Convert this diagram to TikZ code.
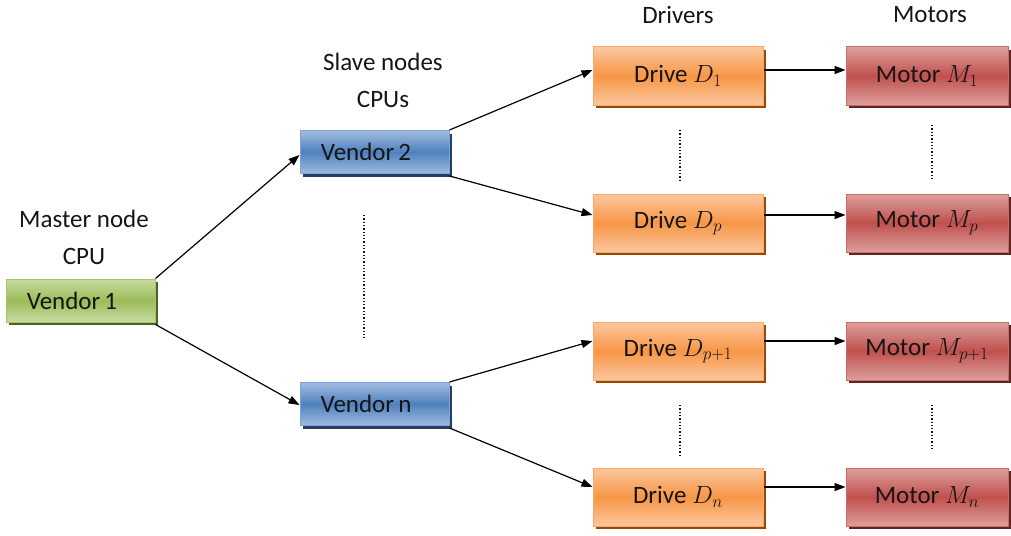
\documentclass[tikz,border=0pt]{standalone}
\usepackage{fontspec}
\setmainfont{Carlito}
\usetikzlibrary{arrows.meta,shadows}
\definecolor{grnTop}{HTML}{C8DCA2}
\definecolor{grnMid}{HTML}{9BBB59}
\definecolor{grnLine}{HTML}{A7C46A}
\definecolor{grnShd}{HTML}{4F6228}
\definecolor{bluTop}{HTML}{A0BCE0}
\definecolor{bluMid}{HTML}{4F81BD}
\definecolor{bluLine}{HTML}{7FA3D2}
\definecolor{bluShd}{HTML}{243F60}
\definecolor{orgTop}{HTML}{FBC79E}
\definecolor{orgMid}{HTML}{F79646}
\definecolor{orgLine}{HTML}{F9A869}
\definecolor{orgShd}{HTML}{984807}
\definecolor{redTop}{HTML}{DDA09E}
\definecolor{redMid}{HTML}{C0504D}
\definecolor{redLine}{HTML}{CB6A67}
\definecolor{redShd}{HTML}{632523}
\definecolor{ink}{HTML}{151515}
\tikzset{
  box/.style={rectangle, line width=1pt, text=ink, font=\fontsize{25}{28}\selectfont,
    inner sep=0pt},
  vendorbox/.style={box, minimum width=149pt, minimum height=43pt},
  unitbox/.style={box, minimum height=58pt},
  greenbox/.style={vendorbox, draw=grnLine, top color=grnTop, bottom color=grnTop, middle color=grnMid,
    general shadow={fill=grnShd, shadow xshift=2.5pt, shadow yshift=-3pt}},
  bluebox/.style={vendorbox, draw=bluLine, top color=bluTop, bottom color=bluTop, middle color=bluMid,
    general shadow={fill=bluShd, shadow xshift=2.5pt, shadow yshift=-3pt}},
  drivebox/.style={unitbox, minimum width=170pt, draw=orgLine, top color=orgTop, bottom color=orgTop, middle color=orgMid,
    general shadow={fill=orgShd, shadow xshift=2.5pt, shadow yshift=-3pt}},
  motorbox/.style={unitbox, minimum width=162pt, draw=redLine, top color=redTop, bottom color=redTop, middle color=redMid,
    general shadow={fill=redShd, shadow xshift=2.5pt, shadow yshift=-3pt}},
  heading/.style={text=ink, font=\fontsize{25}{37}\selectfont, align=center},
  link/.style={line width=1.2pt, -{Triangle[length=11pt,width=8pt]}},
  gap/.style={dotted, line width=1.3pt, ink},
}
\begin{document}
\begin{tikzpicture}[x=1pt,y=-1pt]
\useasboundingbox (0,0) rectangle (1011,535);

% headings
\node[heading] (hmaster) at (84,237) {Master node\\CPU};
\node[heading] (hslave) at (383,80) {Slave nodes\\CPUs};
\node[heading] (hdrv) at (678,15) {Drivers};
\node[heading] (hmot) at (930,15) {Motors};

% processors (labels sit a little left of centre)
\node[greenbox] (v1) at (80.5,300.5) {Vendor\,1\kern17pt};
\node[bluebox] (v2) at (374.5,152) {Vendor\,2\kern17pt};
\node[bluebox] (vn) at (374.5,404) {Vendor\,n\kern17pt};

% drives
\node[drivebox] (d1) at (678,76) {Drive $D_1$};
\node[drivebox] (dp) at (678,223) {Drive $D_p$};
\node[drivebox] (dq) at (678,351) {Drive $D_{p+1}$};
\node[drivebox] (dn) at (678,497) {Drive $D_n$};

% motors
\node[motorbox] (m1) at (927,76) {Motor $M_1$};
\node[motorbox] (mp) at (927,223) {Motor $M_p$};
\node[motorbox] (mq) at (927,351) {Motor $M_{p+1}$};
\node[motorbox] (mn) at (927,497) {Motor $M_n$};

% master to slaves
\draw[link] (v1.north east) -- ([yshift=-3pt]v2.west);
\draw[link] ([yshift=-2pt]v1.south east) -- ([yshift=-1pt]vn.west);

% slaves to drives
\draw[link] (v2.north east) -- ([yshift=6pt]d1.west);
\draw[link] ([yshift=-2pt]v2.south east) -- ([yshift=8pt]dp.west);
\draw[link] (vn.north east) -- ([yshift=10pt]dq.west);
\draw[link] ([yshift=-2pt]vn.south east) -- ([yshift=10pt]dn.west);

% drives to motors
\draw[link] ([yshift=6pt]d1.east) -- ([yshift=6pt]m1.west);
\draw[link] ([yshift=8pt]dp.east) -- ([yshift=8pt]mp.west);
\draw[link] ([yshift=10pt]dq.east) -- ([yshift=10pt]mq.west);
\draw[link] ([yshift=10pt]dn.east) -- ([yshift=10pt]mn.west);

% omitted entries
\coordinate (g1a) at (364,215); \coordinate (g1b) at (364,340);
\coordinate (g2a) at (680,130); \coordinate (g2b) at (680,180);
\coordinate (g3a) at (680,405); \coordinate (g3b) at (680,455);
\coordinate (g4a) at (932,125); \coordinate (g4b) at (932,178);
\coordinate (g5a) at (932,405); \coordinate (g5b) at (932,450);
\draw[gap] (g1a) -- (g1b);
\draw[gap] (g2a) -- (g2b);
\draw[gap] (g3a) -- (g3b);
\draw[gap] (g4a) -- (g4b);
\draw[gap] (g5a) -- (g5b);
\end{tikzpicture}
\end{document}
